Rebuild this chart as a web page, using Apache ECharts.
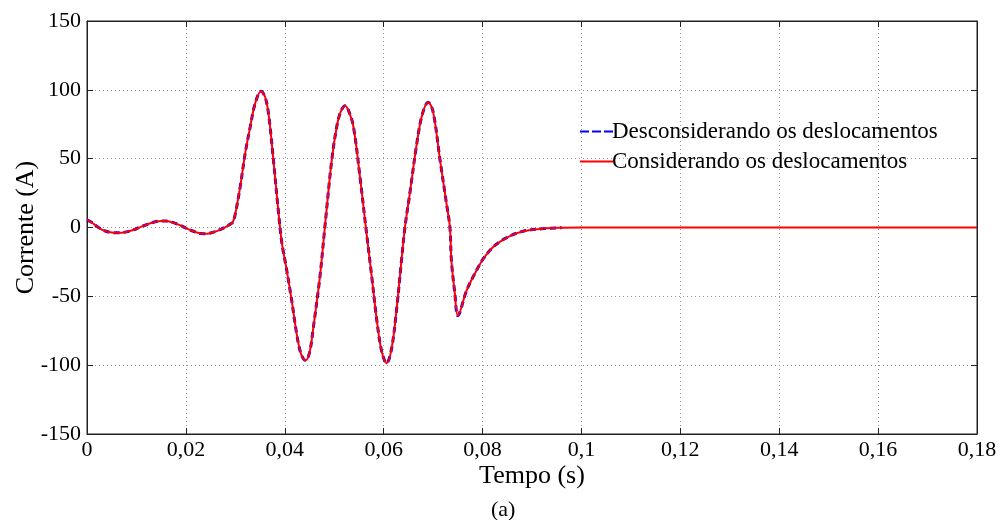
<!DOCTYPE html>
<html>
<head>
<meta charset="utf-8">
<script src="https://cdn.jsdelivr.net/npm/echarts@6/dist/echarts.min.js"></script>
<style>
  html, body { margin: 0; padding: 0; background: #fff; }
  #chart { width: 1001px; height: 520px; }
</style>
</head>
<body>
<div id="chart"></div>
<script>
// Tempo em segundos e corrente em amperes
const tempo = [
  0, 0.001, 0.002, 0.003, 0.004, 0.005, 0.006, 0.007, 0.008, 0.009,
  0.010, 0.011, 0.012, 0.013, 0.014, 0.015, 0.016, 0.017, 0.018, 0.019,
  0.020, 0.021, 0.022, 0.023, 0.024, 0.025, 0.026, 0.027, 0.028, 0.029,
  0.0295, 0.030, 0.031, 0.032, 0.033, 0.034, 0.0352, 0.036, 0.0367, 0.0377,
  0.0387, 0.0394, 0.0403, 0.0414, 0.0424, 0.0433, 0.0442, 0.045, 0.0458, 0.0471,
  0.0481, 0.0495, 0.0505, 0.0513, 0.0522, 0.053, 0.0539, 0.0552, 0.0564, 0.0576,
  0.0586, 0.0596, 0.0606, 0.0616, 0.0626, 0.0636, 0.0643, 0.0653, 0.0667, 0.0678,
  0.069, 0.070, 0.0714, 0.0727, 0.0734, 0.0737, 0.0744, 0.075, 0.0768, 0.0788,
  0.0802, 0.0822, 0.0849, 0.0882, 0.0923, 0.096
];
const correnteConsiderando = [
  5.5, 3.6, 0.8, -1.5, -2.9, -3.6, -3.9, -3.8, -3.2, -2.2,
  -0.9, 0.6, 2.0, 3.3, 4.3, 4.8, 4.7, 4.0, 2.8, 1.3,
  -0.5, -2.0, -3.4, -4.4, -4.6, -4.0, -2.9, -1.4, 0.3, 2.5,
  4, 10, 30, 54, 73, 90, 99, 95, 83, 49,
  12, -11, -29, -53, -77, -92, -96.5, -91, -72, -36,
  0, 49, 73, 84, 88.5, 84, 73, 37, 0, -36,
  -67, -90, -98.6, -88, -60, -24, 0, 25, 61, 82,
  91, 84, 49, 17.5, 0, -24, -48, -64, -45.5, -31,
  -22.5, -14, -7.3, -2.7, -0.8, -0.2
];
// trecho final (corrente nula até o fim da simulação)
const tempoFinal = [0.1, 0.14, 0.18];
const correnteFinal = [0, 0, 0];

// curva sem deslocamentos: mesmo transitório, registrada até 0,096 s
const correnteDesconsiderando = correnteConsiderando.slice();

const xTickLabels = ['0', '0,02', '0,04', '0,06', '0,08', '0,1', '0,12', '0,14', '0,16', '0,18'];
const yTickLabels = ['-150', '-100', '-50', '0', '50', '100', '150'];

const nomeDesc = 'Desconsiderando os deslocamentos';
const nomeCons = 'Considerando os deslocamentos';

const serieDesc = tempo.map((t, i) => [t, correnteDesconsiderando[i]]);
const serieCons = tempo.map((t, i) => [t, correnteConsiderando[i]])
  .concat(tempoFinal.map((t, i) => [t, correnteFinal[i]]));

const FONT = '"Liberation Serif", "Times New Roman", serif';
const axisColor = '#222';

// ícones da legenda: traço tracejado e traço contínuo
const iconeTracejado = 'path://M0,0h9v2h-9z M12,0h9v2h-9z M24,0h9v2h-9z';
const iconeContinuo = 'path://M0,0h33v2h-33z';

const chart = echarts.init(document.getElementById('chart'), null, { renderer: 'canvas' });

const xLabel = v => xTickLabels[Math.round(v / 0.02)] ?? '';
const yLabel = v => yTickLabels[Math.round((v + 150) / 50)] ?? '';

const tickStyle = { show: true, inside: true, length: 6, lineStyle: { color: axisColor } };
const lineStyleEixo = { show: true, onZero: false, lineStyle: { color: axisColor } };

chart.setOption({
  animation: false,
  backgroundColor: '#fff',
  grid: {
    left: 87, right: 24, top: 21, bottom: 86,
    containLabel: false, outerBoundsMode: 'none',
    show: true, borderColor: axisColor, borderWidth: 1
  },
  legend: {
    orient: 'vertical',
    left: 575,
    top: 115,
    itemWidth: 33,
    itemHeight: 2,
    itemGap: 7,
    textStyle: { fontFamily: FONT, fontSize: 23, color: '#000', padding: [0, 0, 0, -6] },
    data: [
      { name: nomeDesc, icon: iconeTracejado },
      { name: nomeCons, icon: iconeContinuo }
    ]
  },
  xAxis: [{
    type: 'value', min: 0, max: 0.18, interval: 0.02, position: 'bottom',
    axisLine: lineStyleEixo,
    axisTick: tickStyle,
    axisLabel: { formatter: xLabel, fontFamily: FONT, fontSize: 22, color: '#000', margin: 5 },
    splitLine: { show: true, lineStyle: { color: '#999', type: [1, 3], width: 1 } },
    name: 'Tempo (s)', nameLocation: 'middle', nameGap: 29, nameMoveOverlap: false,
    nameTextStyle: { fontFamily: FONT, fontSize: 26, color: '#000' }
  }, {
    type: 'value', min: 0, max: 0.18, interval: 0.02, position: 'top',
    axisLine: lineStyleEixo,
    axisTick: tickStyle,
    axisLabel: { show: false }, splitLine: { show: false }
  }],
  yAxis: [{
    type: 'value', min: -150, max: 150, interval: 50, position: 'left',
    axisLine: lineStyleEixo,
    axisTick: tickStyle,
    axisLabel: { formatter: yLabel, fontFamily: FONT, fontSize: 22, color: '#000', margin: 6 },
    splitLine: { show: true, lineStyle: { color: '#999', type: [1, 3], width: 1 } },
    name: 'Corrente (A)', nameLocation: 'middle', nameGap: 48, nameMoveOverlap: false,
    nameTextStyle: { fontFamily: FONT, fontSize: 26, color: '#000' }
  }, {
    type: 'value', min: -150, max: 150, interval: 50, position: 'right',
    axisLine: lineStyleEixo,
    axisTick: tickStyle,
    axisLabel: { show: false }, splitLine: { show: false }
  }],
  graphic: [{
    type: 'text', left: 491, top: 499,
    style: { text: '(a)', fontFamily: FONT, fontSize: 22, fill: '#000' }
  }],
  series: [{
    name: nomeDesc, type: 'line', data: serieDesc, symbol: 'none', smooth: 0.35, z: 2,
    lineStyle: { color: '#0000ff', width: 3, type: [6, 4] },
    itemStyle: { color: '#0000ff' }
  }, {
    name: nomeCons, type: 'line', data: serieCons, symbol: 'none', smooth: 0.35, z: 3,
    lineStyle: { color: '#ff0000', width: 2 },
    itemStyle: { color: '#ff0000' }
  }]
});
</script>
</body>
</html>
